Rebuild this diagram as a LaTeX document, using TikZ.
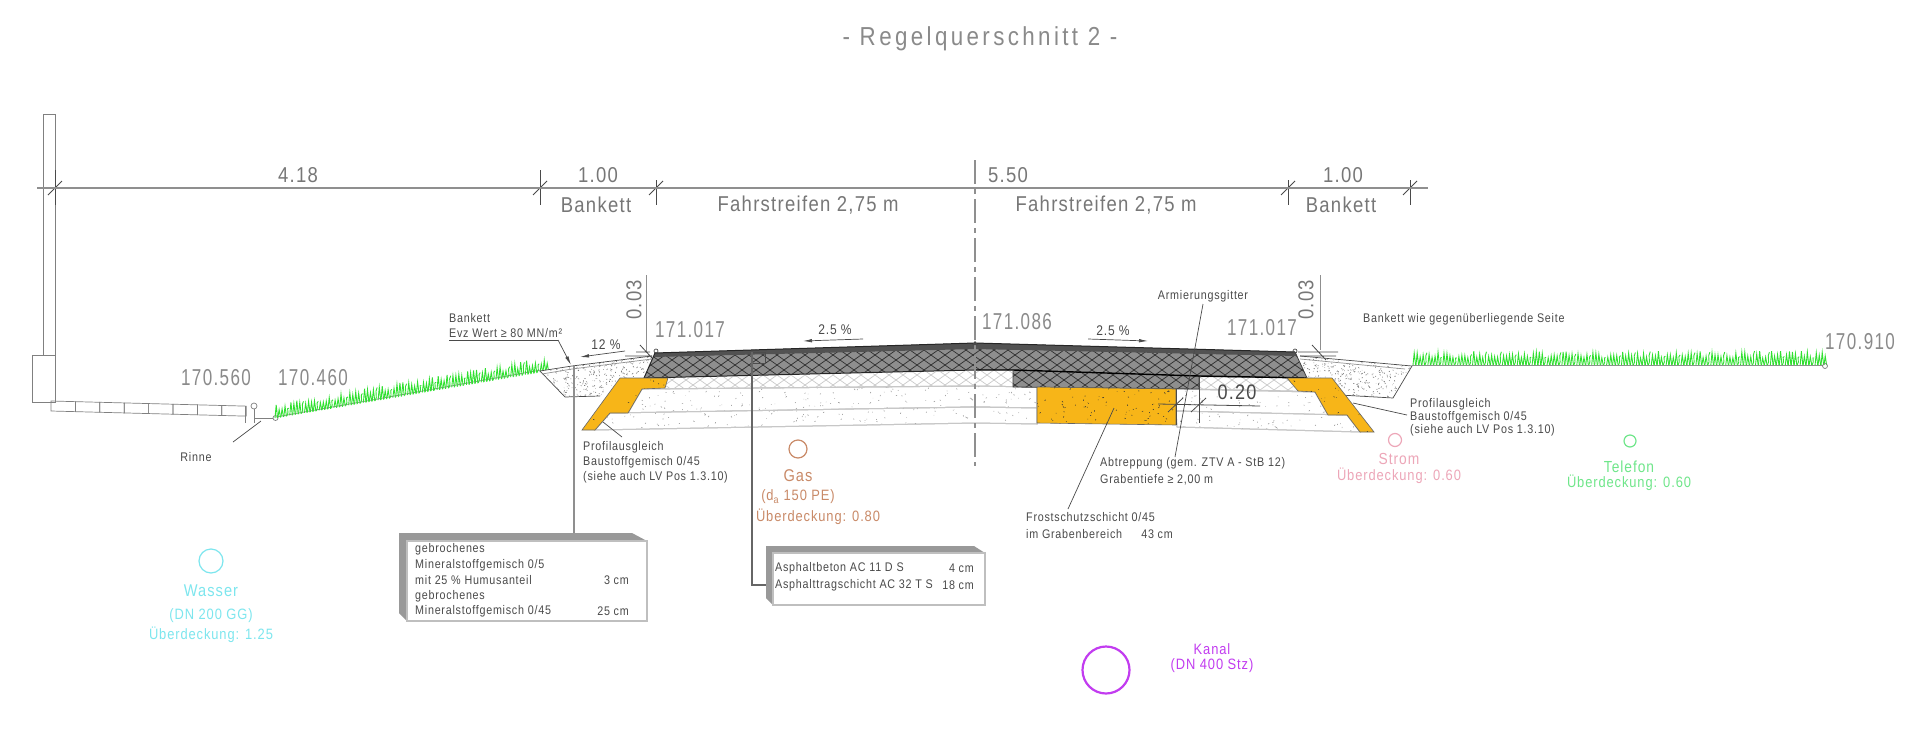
\documentclass[tikz,border=0pt]{standalone}
\usepackage{fontspec}
\setmainfont{Liberation Sans}
\newfontfamily\cad[FakeStretch=0.86,LetterSpace=6]{Liberation Sans}
\newfontfamily\cadn[FakeStretch=0.74,LetterSpace=6]{Liberation Sans}
\newfontfamily\cadt[FakeStretch=0.86,LetterSpace=13]{Liberation Sans}
\usetikzlibrary{arrows.meta,calc}
\definecolor{txtg}{HTML}{8A8A8A}
\definecolor{txtd}{HTML}{4A4A4A}
\definecolor{lineg}{HTML}{8F8F8F}
\definecolor{orangefill}{HTML}{F7B518}
\definecolor{asphalt}{HTML}{8E8E8E}
\definecolor{grassg}{HTML}{30E030}
\definecolor{gasc}{HTML}{C98A68}
\definecolor{stromc}{HTML}{EDA6B8}
\definecolor{telc}{HTML}{6FE68A}
\definecolor{wasc}{HTML}{7DE6EE}
\definecolor{kanc}{HTML}{C23CF0}
\tikzset{
  lbl/.style={inner sep=0pt,font=\fontsize{#1}{#1}\selectfont\cad},
  big/.style={lbl=21.5,text=txtd!75},
  elev/.style={inner sep=0pt,font=\fontsize{23}{23}\selectfont\cadn,text=txtg},
  small/.style={lbl=12.5,text=txtd,anchor=west},
  thin/.style={draw=txtd,line width=0.7pt},
  dimln/.style={draw=lineg,line width=1.1pt},
  tick/.style={draw=txtd,line width=0.8pt},
  arr/.style={draw=txtd,line width=0.7pt,-{Latex[length=9pt,width=3.5pt]}},
  grassln/.style={draw=grassg,line width=0.9pt},
  layer/.style={draw=black!22,line width=1pt,fill=white},
  oran/.style={draw=black!60,line width=0.6pt,fill=orangefill},
}
\newcommand{\speck}[6]{% xmin xmax ymin ymax n colour
  \foreach \i in {1,...,#5}{
    \pgfmathsetmacro\px{#1+rnd*(#2-#1)}
    \pgfmathsetmacro\py{#3+rnd*(#4-#3)}
    \pgfmathsetmacro\qx{2.6*(rnd-.5)}
    \pgfmathsetmacro\qy{2.6*(rnd-.5)}
    \draw[#6,line width=.55pt] (\px,\py) -- ++(\qx,\qy);
  }}
\newcommand{\xhatch}[3]{% colour, xmin, count
  \foreach \k in {0,...,#3}{
    \pgfmathsetmacro\d{#2+14*\k}
    \draw[#1,line width=.75pt] (\d,340) -- ++(84,60);
    \draw[#1,line width=.75pt] (\d,400) -- ++(84,-60);
  }}
\newcommand{\grass}[5]{% x1 y1 x2 y2 n
  \foreach \i in {0,...,#5}{
    \pgfmathsetmacro\gx{#1+\i/#5*(#3-#1)}
    \pgfmathsetmacro\gy{#2+\i/#5*(#4-#2)}
    \pgfmathsetmacro\gh{7+rnd*7}
    \pgfmathtruncatemacro\gm{mod(\i,5)}
    \ifnum\gm=4
      \draw[grassln] (\gx,\gy) .. controls (\gx+3,\gy-4) and (\gx-1,\gy-8) .. (\gx+2,\gy-\gh);
    \else
      \draw[grassln] (\gx,\gy) -- (\gx+1.2,\gy-\gh) -- (\gx+2.6,\gy);
    \fi
  }}
\begin{document}
\begin{tikzpicture}[x=1pt,y=-1pt]
\useasboundingbox (0,0) rectangle (1920,734);
\fill[white] (0,0) rectangle (1920,734);
\pgfmathsetseed{7}

\node[inner sep=0pt,font=\fontsize{26}{26}\selectfont\cadt,text=txtg] (title) at (980,39) {- Regelquerschnitt 2 -};

% wall and gutter
\draw[thin,draw=txtd!70] (43,114) rectangle (55,355);
\draw[thin,draw=txtd!70] (32,355) rectangle (55,402);
\foreach \k in {0,...,7}{
  \pgfmathsetmacro\xa{51+24.4*\k}
  \pgfmathsetmacro\ya{401+0.64*\k}
  \draw[thin,draw=txtd!70] (\xa,\ya) -- ++(24.4,0.64) -- ++(0,10) -- ++(-24.4,-0.64) -- cycle;
}
\draw[thin,draw=txtd!70] (245,406) -- (245,423) (254,409) -- (254,423) (255,418) -- (273,418);
\draw[thin,draw=txtd!70] (254,406) circle (3);
\draw[thin,draw=txtd!70] (275.5,418) circle (2.5);

% grass
\draw[lineg,line width=.8pt] (276,417) -- (541,370);
\grass{275}{418}{546}{371}{92}
\draw[lineg,line width=1pt] (1412,365) -- (1823,365);
\grass{1413}{365}{1824}{365}{138}
\draw[thin,draw=txtd!70] (1825,366) circle (2.5);

% shoulders
\begin{scope}
\clip (540,371) -- (572,366) -- (652,356) -- (645,378) -- (620,378) -- (600,396) -- (565,397) -- cycle;
\fill[white] (530,350) rectangle (660,400);
\speck{538}{655}{355}{399}{420}{black!55}
\end{scope}
\draw[thin] (540,371) -- (565,397) -- (600,396);
\draw[thin] (540,371) -- (572,366) -- (652,356);
\draw[thin,draw=txtd!60] (542,374) -- (572,369) -- (652,359);
\begin{scope}
\clip (1300,356) -- (1412,366) -- (1393,398) -- (1340,395) -- (1332,378) -- (1307,378) -- cycle;
\fill[white] (1295,350) rectangle (1420,400);
\speck{1297}{1414}{352}{400}{420}{black!55}
\end{scope}
\draw[thin] (1412,366) -- (1393,398) -- (1340,395);
\draw[thin] (1300,356) -- (1412,366);
\draw[thin,draw=txtd!60] (1300,359) -- (1405,369);

% gravel layers
\foreach \poly in {
  {(642,389) -- (975,386) -- (1037,387) -- (1037,408) -- (975,407) -- (628,413) -- cycle},
  {(610,413) -- (975,407) -- (1037,408) -- (1037,424) -- (975,423) -- (595,430) -- cycle},
  {(1176,389) -- (1315,392) -- (1328,415) -- (1176,411) -- cycle},
  {(1176,411) -- (1347,415) -- (1360,432) -- (1177,427) -- cycle}}{
  \begin{scope}
  \path[layer] \poly;
  \clip \poly;
  \speck{595}{1360}{386}{432}{520}{black!42}
  \end{scope}
  \draw[draw=black!22,line width=1pt] \poly;
}

% light hatched base layer
\begin{scope}
\path[clip] (668,378) -- (975,371) -- (1013,370) -- (1013,387) -- (975,386) -- (665,389) -- cycle;
\xhatch{black!20}{560}{34}
\end{scope}
\begin{scope}
\path[clip] (1199,377) -- (1287,378) -- (1298,391) -- (1199,389) -- cycle;
\xhatch{black!20}{1106}{15}
\end{scope}
\draw[black!22,line width=.8pt] (665,389) -- (975,386) (1199,389) -- (1298,391);

% asphalt
\begin{scope}
\path[clip] (655,353) -- (975,343) -- (1295,352) -- (1307,378) -- (1199,377) -- (1199,389) -- (1013,387) -- (1013,370) -- (975,370) -- (644,378) -- cycle;
\fill[asphalt] (640,340) rectangle (1310,392);
\xhatch{black!80}{546}{56}
\end{scope}
\fill[black!68] (655,353) -- (975,343) -- (1295,352) -- (1297,356) -- (975,349) -- (654,357) -- cycle;
\draw[black!85,line width=1pt] (655,353) -- (975,343) -- (1295,352);
\draw[black!85,line width=1pt] (655,353) -- (644,378) -- (975,370);
\draw[black,line width=1.4pt] (975,370) -- (1013,370) -- (1199,376) -- (1307,378);
\draw[black!75,line width=.8pt] (1295,352) -- (1307,378);
\draw[black!75,line width=.8pt] (1013,370) -- (1013,387) -- (1199,389) -- (1199,377);
\draw[black!70,line width=1pt] (752,352) rectangle (765,363);

% orange
\begin{scope}
\path[oran] (620,378) -- (668,378) -- (665,388) -- (642,389) -- (628,413) -- (610,413) -- (595,430) -- (582,430) -- cycle;
\clip (620,378) -- (668,378) -- (665,388) -- (642,389) -- (628,413) -- (610,413) -- (595,430) -- (582,430) -- cycle;
\speck{582}{668}{378}{430}{35}{black!80}
\end{scope}
\begin{scope}
\path[oran] (1037,387) -- (1176,389) -- (1176,425) -- (1037,423) -- cycle;
\clip (1037,387) -- (1176,389) -- (1176,425) -- (1037,423) -- cycle;
\speck{1037}{1176}{387}{425}{85}{black!80}
\end{scope}
\begin{scope}
\path[oran] (1287,378) -- (1332,378) -- (1374,432) -- (1360,432) -- (1347,415) -- (1328,415) -- (1315,392) -- (1298,391) -- cycle;
\clip (1287,378) -- (1332,378) -- (1374,432) -- (1360,432) -- (1347,415) -- (1328,415) -- (1315,392) -- (1298,391) -- cycle;
\speck{1287}{1374}{378}{432}{35}{black!80}
\end{scope}

% dimension line
\coordinate (dimL) at (37,188);
\coordinate (dimR) at (1428,188);
\draw[dimln] (dimL) -- (dimR);
\foreach \xx/\ya/\yb in {55/170/205,540/170/205,656/180/205,1288/180/205,1410/180/205}{
  \draw[tick] (\xx,\ya) -- (\xx,\yb);
  \draw[tick] (\xx-7,195) -- (\xx+7,181);
  \draw[dimln,line width=1.5pt] (\xx-15,188) -- (\xx+15,188);
}
\node[big] (d418) at (298,175) {4.18};
\node[big] (d100a) at (598,175) {1.00};
\node[big] (bk1) at (596,205) {Bankett};
\node[big] (fs1) at (808,205) {Fahrstreifen 2,75 m};
\node[big] (d550) at (1008,175) {5.50};
\node[big] (fs2) at (1106,205) {Fahrstreifen 2,75 m};
\node[big] (d100b) at (1343,175) {1.00};
\node[big] (bk2) at (1341,205) {Bankett};

% centre line
\coordinate (cTop) at (975,160);
\coordinate (cBot) at (975,466);
\draw[lineg,line width=1.2pt,dash pattern=on 24pt off 5pt on 5pt off 5pt] (cTop) -- (cBot);
\fill[txtd] (975,341) -- (972,345) -- (978,345) -- cycle;

% 0.03 dims
\draw[lineg,line width=1pt] (646,275) -- (646,353);
\draw[lineg,line width=1pt] (1320,275) -- (1320,350);
\node[big,rotate=90] (h1) at (634,300) {0.03};
\node[big,rotate=90] (h2) at (1306,300) {0.03};
\draw[tick] (640,345) -- (652,358) (636,352) -- (650,352) (625,356) -- (652,356);
\draw[tick] (1312,345) -- (1326,360) (1298,352) -- (1338,352) (1300,356) -- (1336,356);
\draw[thin] (656,351) circle (2);
\draw[thin] (1295,351) circle (2);

% elevations
\node[elev] (e1) at (216,378) {170.560};
\node[elev] (e2) at (313,378) {170.460};
\node[elev] (e3) at (690,330) {171.017};
\node[elev] (e4) at (1017,322) {171.086};
\node[elev] (e5) at (1262,328) {171.017};
\node[elev] (e6) at (1860,342) {170.910};

% slope arrows
\node[lbl=14,text=txtd] (s1) at (606,345) {12 \%};
\coordinate (s1a) at (625,351); \coordinate (s1b) at (580,357);
\draw[arr] (s1a) -- (s1b);
\node[lbl=14,text=txtd] (s2) at (835,330) {2.5 \%};
\coordinate (s2a) at (863,339); \coordinate (s2b) at (803,341);
\draw[arr] (s2a) -- (s2b);
\node[lbl=14,text=txtd] (s3) at (1113,331) {2.5 \%};
\coordinate (s3a) at (1088,339); \coordinate (s3b) at (1148,341);
\draw[arr] (s3a) -- (s3b);

% Rinne
\node[small,anchor=center] (rinne) at (196,457) {Rinne};
\coordinate (rinA) at (261,421); \coordinate (rinB) at (233,442);
\draw[thin] (rinA) -- (rinB);

% Bankett label
\node[small] (bl1) at (449,318) {Bankett};
\node[small] (bl2) at (449,333) {Evz Wert ≥ 80 MN/m²};
\coordinate (blA) at (449,340); \coordinate (blB) at (558,340); \coordinate (blC) at (571,365);
\draw[thin] (blA) -- (blB);
\draw[arr] (blB) -- (blC);

% left Profilausgleich
\node[small] (pl1) at (583,447) {Profilausgleich};
\node[small] (pl2) at (583,462) {Baustoffgemisch 0/45};
\node[small] (pl3) at (583,477) {(siehe auch LV Pos 1.3.10)};
\coordinate (plA) at (603,422); \coordinate (plB) at (622,437);
\draw[thin] (plA) -- (plB);

% right Profilausgleich
\node[small] (pr1) at (1410,404) {Profilausgleich};
\node[small] (pr2) at (1410,417) {Baustoffgemisch 0/45};
\node[small] (pr3) at (1410,430) {(siehe auch LV Pos 1.3.10)};
\coordinate (prA) at (1353,403); \coordinate (prB) at (1407,415);
\draw[thin] (prA) -- (prB);

\node[small] (bw) at (1363,319) {Bankett wie gegenüberliegende Seite};

% Armierung, Abtreppung, Frostschutz
\node[small,anchor=center] (arm) at (1203,296) {Armierungsgitter};
\coordinate (armB) at (1175,457);
\draw[thin] (arm.south) ++(0,2) -- (armB);
\node[small] (ab1) at (1100,463) {Abtreppung (gem. ZTV A - StB 12)};
\node[small] (ab2) at (1100,480) {Grabentiefe ≥ 2,00 m};
\coordinate (frA) at (1114,408); \coordinate (frB) at (1068,509);
\draw[thin] (frA) -- (frB);
\node[small] (fr1) at (1026,517) {Frostschutzschicht 0/45};
\node[small] (fr2) at (1026,534) {im Grabenbereich};
\node[small,anchor=east] (fr3) at (1173,534) {43 cm};

% 0.20 dim
\draw[tick] (1158,404) -- (1260,406);
\draw[tick] (1176,389) -- (1176,425);
\draw[tick] (1199,377) -- (1199,423);
\draw[tick] (1168,412) -- (1183,398) (1191,412) -- (1206,398);
\node[lbl=21,text=txtd] (d020) at (1237,392) {0.20};

% utilities
\node[circle,draw=gasc,line width=1.2pt,minimum size=18pt,inner sep=0] (gas) at (798,449) {};
\node[lbl=17,text=gasc] (gas1) at (798,476) {Gas};
\node[lbl=15,text=gasc] (gas2) at (798,497) {(d\textsubscript{a} 150 PE)};
\node[lbl=15,text=gasc] (gas3) at (818,517) {Überdeckung: 0.80};

\node[circle,draw=stromc,line width=1.2pt,minimum size=13pt,inner sep=0] (strom) at (1395,440) {};
\node[lbl=16,text=stromc] (st1) at (1399,459) {Strom};
\node[lbl=15,text=stromc] (st2) at (1399,476) {Überdeckung: 0.60};

\node[circle,draw=telc,line width=1.2pt,minimum size=12pt,inner sep=0] (tel) at (1630,441) {};
\node[lbl=16,text=telc] (te1) at (1629,467) {Telefon};
\node[lbl=15,text=telc] (te2) at (1629,483) {Überdeckung: 0.60};

\node[circle,draw=wasc,line width=1.2pt,minimum size=24pt,inner sep=0] (was) at (211,561) {};
\node[lbl=17,text=wasc] (wa1) at (211,591) {Wasser};
\node[lbl=15,text=wasc] (wa2) at (211,616) {(DN 200 GG)};
\node[lbl=15,text=wasc] (wa3) at (211,635) {Überdeckung: 1.25};

\node[circle,draw=kanc,line width=2.2pt,minimum size=47pt,inner sep=0] (kan) at (1106,670) {};
\node[lbl=15,text=kanc] (ka1) at (1212,649) {Kanal};
\node[lbl=15,text=kanc] (ka2) at (1212,666) {(DN 400 Stz)};

% box 1
\coordinate (b1tl) at (399,533); \coordinate (b1tr) at (632,533);
\coordinate (b1a) at (407,541); \coordinate (b1b) at (647,541);
\coordinate (b1c) at (647,621); \coordinate (b1d) at (407,621);
\coordinate (b1e) at (399,613);
\coordinate (ld1) at (574,366); \coordinate (ld1b) at (574,533);
\draw[lineg,line width=1.1pt] (ld1) -- (ld1b);
\fill[black!40] (b1tl) -- (b1tr) -- (b1b) -- (b1a) -- (b1d) -- (b1e) -- cycle;
\draw[black!25,line width=1.2pt,fill=white] (b1a) -- (b1b) -- (b1c) -- (b1d) -- cycle;
\node[small] (t11) at (415,549) {gebrochenes};
\node[small] (t12) at (415,565) {Mineralstoffgemisch 0/5};
\node[small] (t13) at (415,580) {mit 25 \% Humusanteil};
\node[small] (t14) at (415,596) {gebrochenes};
\node[small] (t15) at (415,611) {Mineralstoffgemisch 0/45};
\node[small,anchor=east] (t16) at (629,580) {3 cm};
\node[small,anchor=east] (t17) at (629,611) {25 cm};

% box 2
\coordinate (b2tl) at (766,546); \coordinate (b2tr) at (974,546);
\coordinate (b2a) at (773,553); \coordinate (b2b) at (985,553);
\coordinate (b2c) at (985,605); \coordinate (b2d) at (773,605);
\coordinate (b2e) at (766,598);
\coordinate (ld2) at (752,352); \coordinate (ld2b) at (752,585); \coordinate (ld2c) at (766,585);
\draw[black!60,line width=1.1pt] (ld2) -- (ld2b) -- (ld2c);
\fill[black!40] (b2tl) -- (b2tr) -- (b2b) -- (b2a) -- (b2d) -- (b2e) -- cycle;
\draw[black!25,line width=1.2pt,fill=white] (b2a) -- (b2b) -- (b2c) -- (b2d) -- cycle;
\node[small] (t21) at (775,568) {Asphaltbeton AC 11 D S};
\node[small] (t22) at (775,585) {Asphalttragschicht AC 32 T S};
\node[small,anchor=east] (t23) at (974,568) {4 cm};
\node[small,anchor=east] (t24) at (974,585) {18 cm};
\end{tikzpicture}
\end{document}
